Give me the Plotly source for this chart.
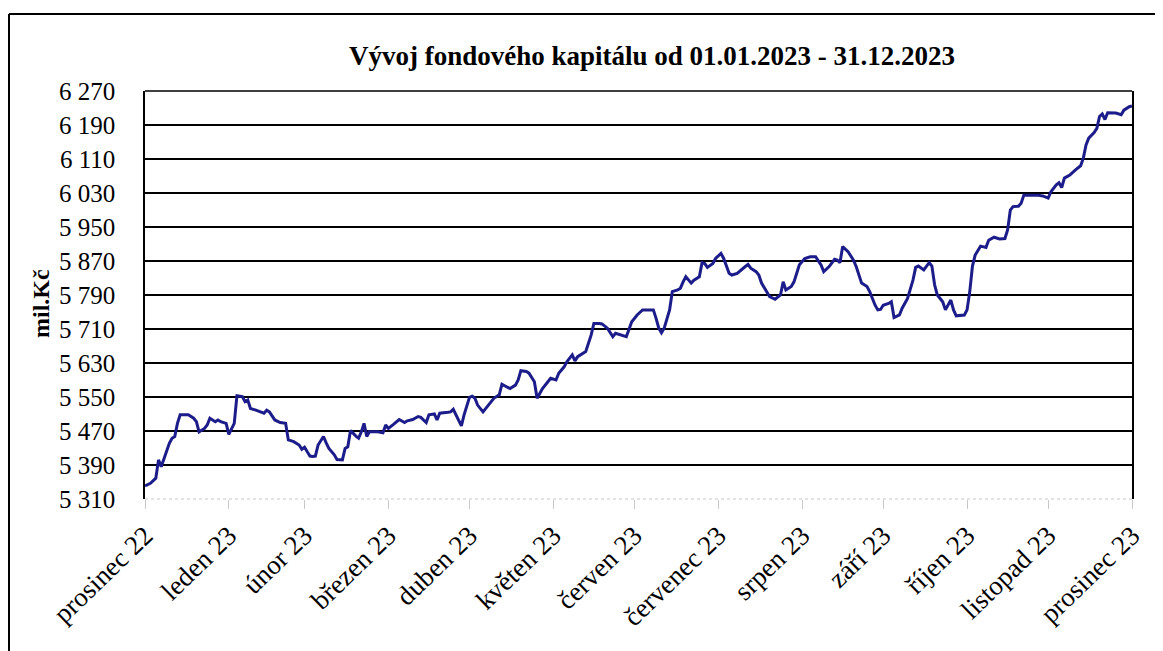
import pandas as pd
import plotly.graph_objects as go

# Days since 31.12.2022 and fund capital (mil. Kč)
days = [0, 2, 4, 5, 6, 7, 9, 10, 11, 12, 13, 16, 18, 19, 20, 22, 23, 24, 26, 27, 28, 30, 31, 33, 34, 36,
        37, 38, 39, 41, 43, 44, 45, 46, 48, 50, 52, 53, 55, 57, 58, 59, 60, 61, 62, 63, 64, 66, 67, 68,
        70, 71, 73, 74, 75, 76, 78, 79, 80, 81, 82, 83, 86, 88, 89, 90, 92, 94, 96, 97, 99, 101, 102,
        104, 105, 107, 108, 109, 112, 113, 114, 116, 117, 118, 120, 121, 122, 123, 125, 127, 129, 131,
        132, 134, 135, 137, 138, 139, 141, 142, 144, 145, 147, 149, 150, 152, 153, 155, 156, 158, 159,
        160, 163, 165, 166, 168, 169, 171, 173, 174, 176, 178, 180, 181, 182, 184, 188, 189, 190, 191,
        192, 194, 195, 197, 198, 199, 200, 202, 203, 205, 206, 207, 208, 210, 211, 213, 214, 216, 217,
        219, 221, 222, 223, 224, 226, 227, 228, 230, 231, 233, 235, 236, 237, 239, 240, 242, 244, 246,
        248, 250, 251, 253, 255, 256, 257, 258, 260, 262, 263, 265, 267, 268, 270, 271, 272, 273, 275,
        276, 277, 279, 280, 282, 284, 285, 286, 288, 290, 291, 292, 293, 295, 296, 298, 299, 300, 303,
        304, 305, 306, 307, 308, 309, 311, 312, 314, 316, 318, 319, 320, 321, 323, 324, 325, 327, 330,
        332, 334, 335, 337, 338, 339, 340, 342, 344, 346, 347, 348, 349, 351, 352, 353, 354, 355, 356,
        359, 361, 362, 364, 365]
values = [5341, 5347, 5359, 5402, 5386, 5406, 5441, 5453, 5457, 5488, 5508, 5508, 5500, 5492, 5468, 5476,
          5484, 5500, 5492, 5496, 5492, 5488, 5462, 5488, 5553, 5551, 5539, 5543, 5523, 5519, 5515, 5512,
          5519, 5515, 5496, 5490, 5488, 5449, 5445, 5437, 5427, 5432, 5421, 5411, 5410, 5411, 5437, 5457,
          5442, 5429, 5414, 5403, 5402, 5429, 5433, 5471, 5458, 5453, 5468, 5488, 5457, 5468, 5468, 5466,
          5484, 5476, 5486, 5497, 5490, 5494, 5497, 5504, 5502, 5490, 5508, 5510, 5496, 5512, 5514, 5515,
          5521, 5496, 5482, 5508, 5549, 5552, 5547, 5531, 5515, 5531, 5547, 5555, 5580, 5573, 5570, 5578,
          5590, 5612, 5610, 5606, 5586, 5547, 5570, 5586, 5594, 5590, 5606, 5621, 5633, 5649, 5635, 5645,
          5657, 5696, 5723, 5723, 5722, 5712, 5692, 5700, 5696, 5692, 5727, 5735, 5743, 5755, 5755, 5735,
          5712, 5701, 5712, 5755, 5798, 5802, 5806, 5821, 5833, 5818, 5825, 5833, 5866, 5864, 5855, 5864,
          5876, 5888, 5876, 5841, 5837, 5841, 5853, 5857, 5862, 5853, 5845, 5837, 5818, 5798, 5786, 5780,
          5790, 5821, 5802, 5810, 5821, 5861, 5876, 5880, 5880, 5861, 5845, 5857, 5874, 5872, 5866, 5904,
          5892, 5872, 5857, 5818, 5810, 5798, 5766, 5755, 5756, 5766, 5770, 5774, 5737, 5743, 5759, 5782,
          5825, 5855, 5858, 5849, 5866, 5858, 5814, 5790, 5774, 5755, 5778, 5755, 5741, 5743, 5755, 5798,
          5858, 5884, 5894, 5905, 5902, 5919, 5926, 5922, 5923, 5943, 5990, 5998, 5999, 6006, 6025, 6025,
          6025, 6023, 6018, 6033, 6049, 6054, 6043, 6065, 6072, 6084, 6094, 6112, 6143, 6159, 6172, 6182,
          6210, 6216, 6203, 6219, 6218, 6214, 6225, 6233, 6235]

tick_dates = ["2022-12-31", "2023-01-31", "2023-02-28", "2023-03-31", "2023-04-30", "2023-05-31",
              "2023-06-30", "2023-07-31", "2023-08-31", "2023-09-30", "2023-10-31", "2023-11-30",
              "2023-12-31"]
tick_labels = ["prosinec 22", "leden 23", "únor 23", "březen 23", "duben 23", "květen 23",
               "červen 23", "červenec 23", "srpen 23", "září 23", "říjen 23", "listopad 23",
               "prosinec 23"]
y_ticks = list(range(5310, 6271, 80))

title_text = "Vývoj fondového kapitálu od 01.01.2023 - 31.12.2023"
y_title = "mil.Kč"

dates = pd.Timestamp("2022-12-31") + pd.to_timedelta(days, unit="D")

SERIF = "Liberation Serif, Times New Roman, serif"

# page offset of the figure (browser body margin)
OFF = 8
FIG_W, FIG_H = 1163 - OFF, 651 - OFF
# plot area in page pixels: x 145..1132, y 91..499
L = 145 - OFF
T = 91 - OFF
W = 1132 - 145
H = 499 - 91
R = FIG_W - L - W
B = FIG_H - T - H


def px(x):  # page x -> paper x
    return (x - OFF - L) / W


def py(y):  # page y -> paper y
    return (T + H - (y - OFF)) / H


fig = go.Figure()
fig.add_trace(go.Scatter(x=dates, y=values, mode="lines",
                         line=dict(color="#1c1c8a", width=3), hoverinfo="x+y"))

fig.update_layout(
    width=FIG_W, height=FIG_H,
    margin=dict(l=L, r=R, t=T, b=B, pad=0, autoexpand=False),
    paper_bgcolor="white", plot_bgcolor="white",
    separators=", ",
    showlegend=False,
    font=dict(family=SERIF, size=22, color="black"),
    title=dict(text="<b>" + title_text + "</b>", xref="container", yref="container",
               x=(652 - OFF) / FIG_W, xanchor="center",
               y=1 - (56 - OFF) / FIG_H, yanchor="middle",
               font=dict(family=SERIF, size=27, color="black")),
    xaxis=dict(type="date", range=[tick_dates[0], tick_dates[-1]],
               tickmode="array", tickvals=tick_dates, ticktext=tick_labels,
               tickangle=-44, showgrid=False, zeroline=False, automargin=False,
               showline=False, ticks="outside", ticklen=9, tickwidth=1,
               tickcolor="#c8c8c8",
               tickfont=dict(family=SERIF, size=27, color="black")),
    yaxis=dict(range=[5310, 6270], tickmode="array", tickvals=y_ticks,
               tickformat=",d", showgrid=True, gridcolor="black", gridwidth=1.5,
               zeroline=False, showline=True, linecolor="black", linewidth=1.5,
               mirror=True, ticks="", ticklabelstandoff=23, automargin=False,
               tickfont=dict(family=SERIF, size=25, color="black")),
)

# top border of plot area
fig.add_shape(type="line", xref="paper", yref="paper", x0=0, x1=1, y0=1, y1=1,
              line=dict(color="black", width=1.5))
# bottom axis: light dotted line
fig.add_shape(type="line", xref="paper", yref="paper", x0=0, x1=1, y0=0, y1=0,
              line=dict(color="#c8c8d0", width=1.2, dash="dot"))
# outer chart border (top and left visible)
fig.add_shape(type="line", xref="paper", yref="paper", x0=px(9), x1=px(1175), y0=py(14), y1=py(14),
              line=dict(color="black", width=2))
fig.add_shape(type="line", xref="paper", yref="paper", x0=px(9), x1=px(9), y0=py(14), y1=py(670),
              line=dict(color="black", width=2))

fig.add_annotation(text="<b>" + y_title + "</b>", xref="paper", yref="paper",
                   x=px(41), y=py(304), textangle=-90, showarrow=False,
                   font=dict(family=SERIF, size=24, color="black"),
                   xanchor="center", yanchor="middle")

fig.write_html("out.html")
